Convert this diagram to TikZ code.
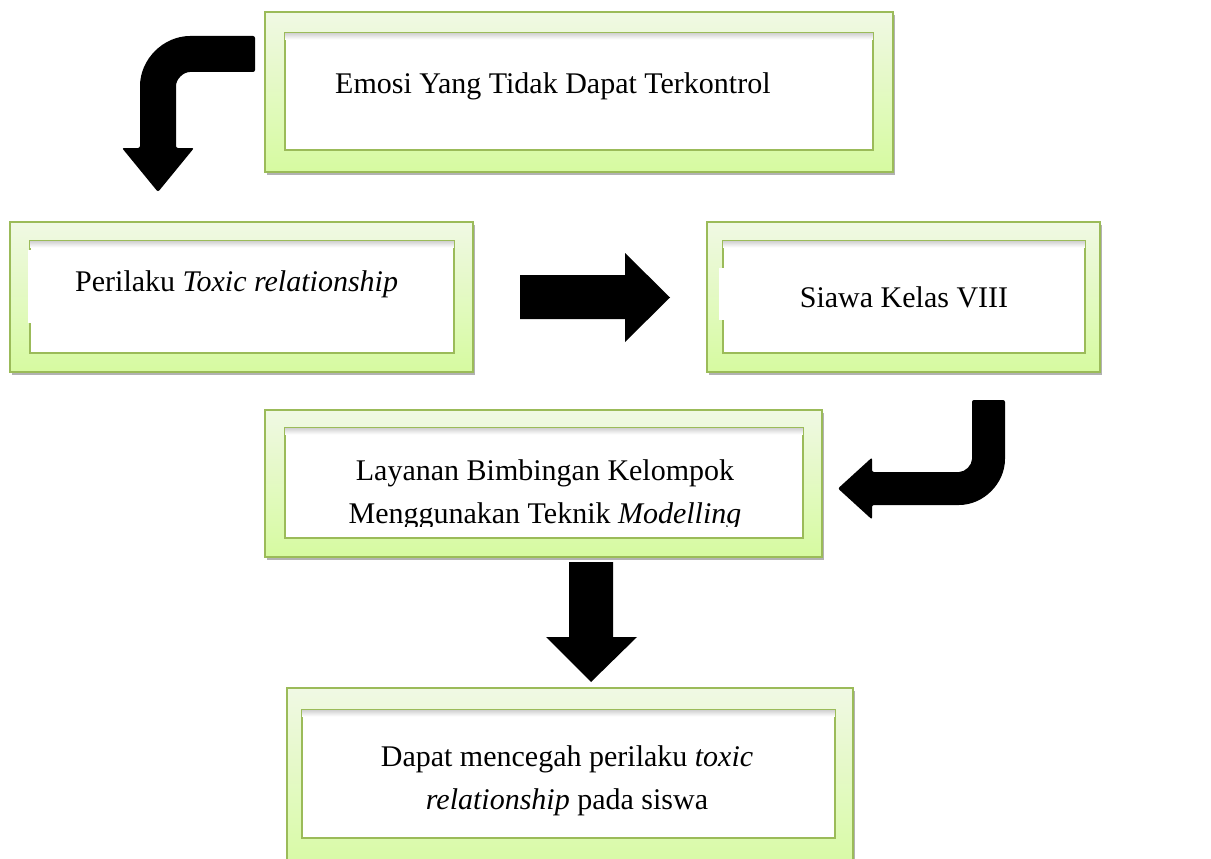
\documentclass[tikz,border=0pt]{standalone}
\usepackage{fontspec}
\setmainfont{Liberation Serif}
\usetikzlibrary{shadows}
\definecolor{bingkai}{RGB}{155,187,89}
\definecolor{hijaumuda}{RGB}{240,249,228}
\definecolor{hijautua}{RGB}{214,250,160}
\tikzset{
	kotak/.style={draw=bingkai, line width=1.3pt, top color=hijaumuda, bottom color=hijautua,
		drop shadow={shadow xshift=2pt, shadow yshift=-3pt, opacity=.3, fill=black}},
	isi/.style={draw=bingkai, line width=1.3pt, fill=white},
	teks/.style={inner sep=0pt, font=\fontsize{30}{43}\selectfont},
	panah/.style={fill=black}
}

\begin{document}
\begin{tikzpicture}[x=1pt, y=-1pt]
	\useasboundingbox (0,0) rectangle (1211,859);
	% kotak luar
	\node[kotak, minimum width=628, minimum height=160](emosi) at (579,92){};
	\node[kotak, minimum width=463, minimum height=150](perilaku) at (241.5,297){};
	\node[kotak, minimum width=393, minimum height=150](siswa) at (903.5,297){};
	\node[kotak, minimum width=557, minimum height=147](layanan) at (543.5,483.5){};
	\node[kotak, minimum width=566, minimum height=192](dapat) at (570,784){};
	% kotak dalam
	\node[isi, minimum width=588, minimum height=117](iemosi) at (579,91.5){};
	\node[isi, minimum width=424, minimum height=112](iperilaku) at (242,297){};
	\node[isi, minimum width=362, minimum height=112](isiswa) at (904,297){};
	\node[isi, minimum width=518, minimum height=110](ilayanan) at (544,483){};
	\node[isi, minimum width=533, minimum height=128](idapat) at (568.5,774){};
	\foreach \n in {iemosi, iperilaku, isiswa, ilayanan, idapat}
		\shade[top color=black!18, bottom color=white]([xshift=.7pt, yshift=-.7pt]\n.north west) rectangle ([xshift=-.7pt, yshift=-7pt]\n.north east);
	\fill[white](28,250) rectangle (34,323);
	\fill[white](719,268) rectangle (730,320);
	% teks
	\node[teks, anchor=base west](temosi) at (335,94){Emosi Yang Tidak Dapat Terkontrol};
	\node[teks, anchor=base west](tperilaku) at (75,291){Perilaku \textit{Toxic relationship}};
	\node[teks, anchor=base](tsiswa) at (904,307){Siawa Kelas VIII};
	\node[teks, anchor=base](tlayanan) at (545,480){Layanan Bimbingan Kelompok};
	\begin{scope}
		\clip (285,428) rectangle (803,526);
		\node[teks, anchor=base](tteknik) at (545,523){Menggunakan Teknik \textit{Modelling}};
	\end{scope}
	\node[teks, anchor=base](tdapat) at (567,766){Dapat mencegah perilaku \textit{toxic}};
	\node[teks, anchor=base](tpada) at (567,809){\textit{relationship} pada siswa};
	% panah
	\fill[panah, rounded corners=2pt](255,36) -- (192,36) .. controls (163.3,36) and (140,59.3) .. (140,88) -- (140,148) -- (122,148) -- (158,192)
		-- (194,148) -- (176,148) -- (176,88) .. controls (176,79.2) and (183.2,72) .. (192,72) -- (255,72) -- cycle;
	\fill[panah](520,275) -- (625,275) -- (625,253) -- (670,297.5) -- (625,342) -- (625,319) -- (520,319) -- cycle;
	\fill[panah, rounded corners=2pt](972,400) -- (1005,400) -- (1005,457) .. controls (1005,483.5) and (983.5,505) .. (957,505) -- (872,505)
		-- (872,519.5) -- (838,488.5) -- (872,457.5) -- (872,472) -- (957,472) .. controls (965.3,472) and (972,465.3) .. (972,457) -- cycle;
	\fill[panah](569,562) -- (613,562) -- (613,637) -- (637,637) -- (591,682) -- (546,637) -- (569,637) -- cycle;
\end{tikzpicture}
\end{document}
